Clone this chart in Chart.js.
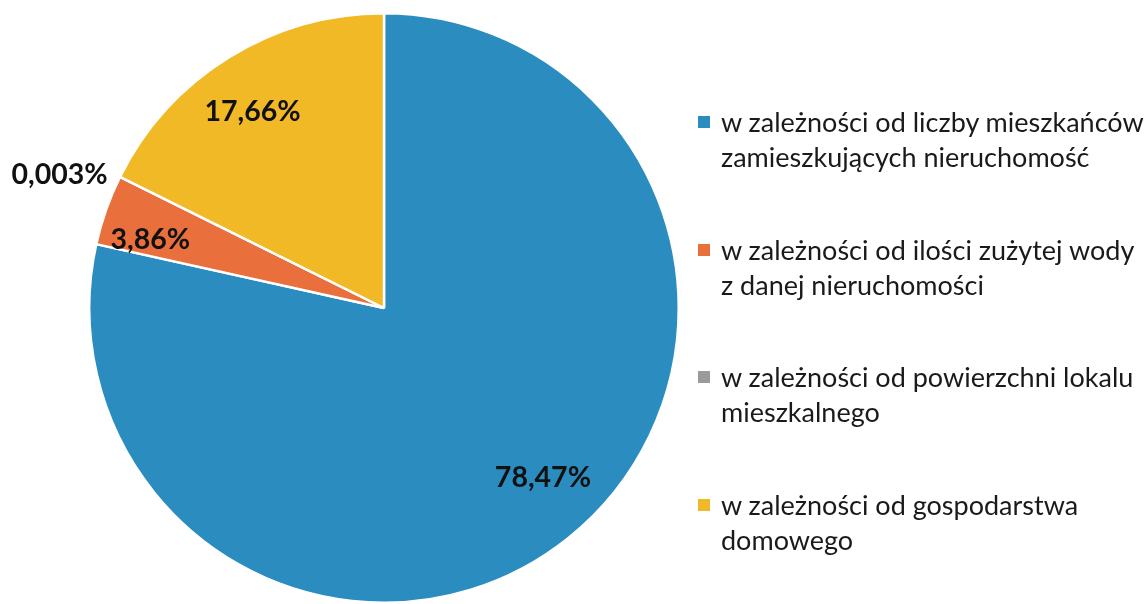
<!DOCTYPE html>
<html><head><meta charset="utf-8">
<script src="https://cdn.jsdelivr.net/npm/chart.js@4.4.0/dist/chart.umd.min.js"></script>
<style>
html,body{margin:0;padding:0;background:#fff;}
#wrap{position:relative;width:1147px;height:604px;overflow:hidden;}
#c{position:absolute;left:0;top:0;}
#legend{position:absolute;left:698px;top:0;font-family:Lato,"Open Sans",sans-serif;font-size:27px;color:#1a1a1a;}
.item{position:absolute;left:0;white-space:nowrap;line-height:35px;}
.sw{position:absolute;left:0;top:12px;width:12px;height:12px;}
.tx{position:absolute;left:23px;top:0;}
</style></head>
<body><div id="wrap"><canvas id="c" width="1147" height="604"></canvas><div id="legend"></div></div>
<script>
const categories = [
  ["w zależności od liczby mieszkańców","zamieszkujących nieruchomość"],
  ["w zależności od ilości zużytej wody","z danej nieruchomości"],
  ["w zależności od powierzchni lokalu","mieszkalnego"],
  ["w zależności od gospodarstwa","domowego"]
];
const values = [78.47, 3.86, 0.003, 17.66];
const valueLabels = ["78,47%", "3,86%", "0,003%", "17,66%"];
const colors = ["#2b8cbf", "#e96f3c", "#9a9a9a", "#f2b927"];

// label placement (style): fraction of radius and angle offset in degrees
const labelRadius = [0.79, 0.826, 1.19, 0.80];
const labelAngleOffset = [-4.3, -3.2, -4.1, -2.1];
const legendTops = [104, 232, 359, 487];

const labelPlugin = {
  id: 'valLabels',
  afterDatasetsDraw(chart) {
    const ctx = chart.ctx;
    const meta = chart.getDatasetMeta(0);
    ctx.save();
    ctx.font = 'bold 28.5px Lato, "Open Sans", sans-serif';
    ctx.fillStyle = '#111';
    ctx.textAlign = 'center';
    ctx.textBaseline = 'middle';
    meta.data.forEach((arc, i) => {
      const p = arc.getProps(['x','y','startAngle','endAngle','outerRadius'], true);
      const a = (p.startAngle + p.endAngle) / 2 + labelAngleOffset[i] * Math.PI / 180;
      const r = p.outerRadius * labelRadius[i];
      ctx.fillText(valueLabels[i], p.x + Math.cos(a) * r, p.y + Math.sin(a) * r);
    });
    ctx.restore();
  }
};

new Chart(document.getElementById('c'), {
  type: 'pie',
  data: {
    labels: categories.map(c => c.join(' ')),
    datasets: [{ data: values, backgroundColor: colors, borderColor: '#ffffff', borderWidth: 2.5 }]
  },
  options: {
    responsive: false,
    animation: false,
    layout: { padding: { left: 88, right: 467, top: 12, bottom: 0 } },
    plugins: { legend: { display: false }, tooltip: { enabled: false } }
  },
  plugins: [labelPlugin]
});

const lg = document.getElementById('legend');
categories.forEach((lines, i) => {
  const d = document.createElement('div');
  d.className = 'item';
  d.style.top = legendTops[i] + 'px';
  d.innerHTML = '<div class="sw" style="background:' + colors[i] + '"></div><div class="tx">' + lines.join('<br>') + '</div>';
  lg.appendChild(d);
});
</script></body></html>
